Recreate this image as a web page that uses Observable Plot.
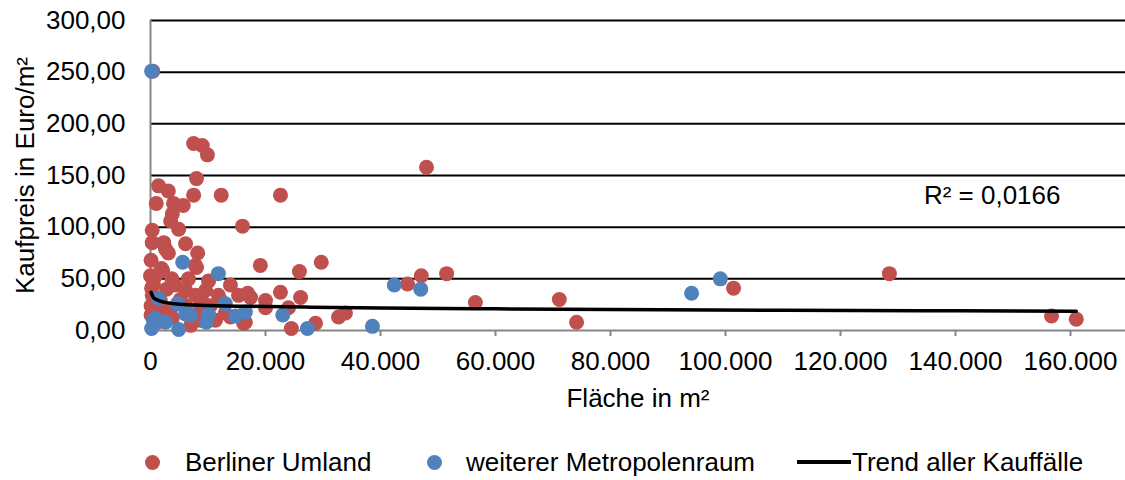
<!DOCTYPE html>
<html>
<head>
<meta charset="utf-8">
<script src="https://cdn.jsdelivr.net/npm/d3@7"></script>
<script src="https://cdn.jsdelivr.net/npm/@observablehq/plot@0.6"></script>
<style>
  html, body { margin: 0; padding: 0; background: #fff; }
  #wrap { width: 1125px; font-family: 'Liberation Sans', Arial, sans-serif; }
  #legend { position: relative; width: 1125px; height: 60px; font-size: 26px; color: #000; }
  #legend .sw { position: absolute; width: 15px; height: 15px; border-radius: 50%; }
  #legend .tx { position: absolute; line-height: 30px; white-space: nowrap; }
  #legend .ln { position: absolute; height: 4px; background: #000; }
</style>
</head>
<body>
<div id="wrap"><div id="chart"></div><div id="legend"></div></div>
<script>
// ---- data (Fläche in m², Kaufpreis in Euro/m²) ----
const umlandX = [400, 7500, 9000, 9900, 8000, 1400, 3100, 7500, 12300, 22600, 48000, 1000, 4000, 5700, 3800, 3500, 300, 4900, 16000, 300, 6100, 2600, 8200, 100, 7800, 19100, 25900, 29700, 2100, 500, 10100, 13900, 22600, 16900, 26100, 20000, 17400, 20000, 24000, 24500, 28700, 32700, 33900, 16200, 13900, 44700, 47100, 51500, 56500, 71100, 74100, 101400, 128500, 156700, 161000, 2300, 3100, 1900, 8000, 6600, 3700, 200, 15300, 11800, 2600, 7800, 16500, 900, 4300, 6100, 7800, 9600, 10400, 12200, 8700, 1700, 3500, 6100, 100, 100, 1200, 3800, 7000, 11300, 13000, 8700, 0, 300, 1400, 5200, 9000, 2800];
const umlandY = [251, 181, 179, 170, 147, 140, 135, 131, 131, 131, 158, 123, 123, 121, 113, 106, 97, 98, 101, 85, 84, 79, 75, 68, 63, 63, 57, 66, 58, 45, 48, 44, 37, 36, 32, 29, 32, 22, 22, 2, 7, 13, 17, 7, 13, 45, 53, 55, 27, 30, 8, 41, 55, 14, 11, 85, 75, 60, 61, 50, 50, 41, 34, 34, 17, 13, 8, 53, 44, 39, 34, 39, 24, 29, 24, 29, 21, 24, 24, 15, 8, 12, 5, 10, 17, 10, 53, 34, 19, 30, 28, 40];

const metroX = [200, 5600, 11800, 1400, 4700, 13000, 16500, 10100, 14800, 23000, 6100, 9700, 900, 2600, 200, 4900, 27300, 38600, 42400, 47000, 94100, 99100, 7000, 500];
const metroY = [251, 66, 55, 31, 26, 26, 18, 16, 14, 15, 16, 8, 12, 8, 2, 1, 2, 4, 44, 40, 36, 50, 15, 10];

// trend line
const trendX = [100, 500, 1000, 2300, 5000, 10000, 20000, 28000, 40000, 60000, 80000, 110000, 140000, 161000];
const trendY = [37, 32, 30, 27.5, 25.5, 24.3, 23.2, 22.6, 21.8, 21, 20.3, 19.5, 19, 18.7];

const xTicks = [0, 20000, 40000, 60000, 80000, 100000, 120000, 140000, 160000];
const yTicks = [0, 50, 100, 150, 200, 250, 300];
const gridY = [50, 100, 150, 200, 250, 300];

const xTitle = "Fläche in m²";
const yTitle = "Kaufpreis in Euro/m²";
const r2Label = "R² = 0,0166";
const seriesNames = ["Berliner Umland", "weiterer Metropolenraum", "Trend aller Kauffälle"];
const colors = ["#C0504D", "#4F81BD", "#000000"];

// ---- build ----
const de = d3.formatLocale({decimal: ",", thousands: ".", grouping: [3], currency: ["", " €"]});
const fmtX = de.format(",d");
const fmtY = de.format(",.2f");

const umland = umlandX.map((x, i) => ({x, y: umlandY[i]}));
const metro = metroX.map((x, i) => ({x, y: metroY[i]}));
const trend = trendX.map((x, i) => ({x, y: trendY[i]}));

const chart = Plot.plot({
  width: 1125,
  height: 420,
  marginTop: 20,
  marginBottom: 90,
  marginLeft: 150,
  marginRight: 0,
  style: {fontFamily: "'Liberation Sans', Arial, sans-serif", fontSize: "26px", color: "#000", background: "#fff"},
  x: {domain: [0, 169565]},
  y: {domain: [0, 300]},
  marks: [
    Plot.ruleY(gridY, {stroke: "#000", strokeWidth: 2}),
    Plot.ruleY([0], {stroke: "#868686", strokeWidth: 2}),
    Plot.ruleX([0], {stroke: "#868686", strokeWidth: 2}),
    Plot.axisX({ticks: xTicks, tickFormat: fmtX, tickSize: 6, stroke: "#868686", strokeWidth: 2, tickPadding: 15, label: null}),
    Plot.axisY({ticks: yTicks, tickFormat: fmtY, tickSize: 0, tickPadding: 25, label: null}),
    Plot.dot(umland, {x: "x", y: "y", r: 7.5, fill: colors[0]}),
    Plot.dot(metro, {x: "x", y: "y", r: 7.5, fill: colors[1]}),
    Plot.line(trend, {x: "x", y: "y", stroke: colors[2], strokeWidth: 3.5, curve: "monotone-x"}),
    Plot.text([r2Label], {x: 134500, y: 130.5, textAnchor: "start", fontSize: 26}),
    Plot.text([xTitle], {frameAnchor: "bottom", dy: 76, fontSize: 26}),
    Plot.text([yTitle], {frameAnchor: "left", rotate: -90, dx: -125, textAnchor: "middle", fontSize: 26})
  ]
});
document.getElementById("chart").appendChild(chart);

// legend
const lg = document.getElementById("legend");
const cy = 42;
function sw(cx, color) {
  const d = document.createElement("div");
  d.className = "sw"; d.style.left = (cx - 7.5) + "px"; d.style.top = (cy - 7.5) + "px"; d.style.background = color;
  lg.appendChild(d);
}
function tx(x, s) {
  const d = document.createElement("div");
  d.className = "tx"; d.style.left = x + "px"; d.style.top = (cy - 15) + "px"; d.textContent = s;
  lg.appendChild(d);
}
sw(152.5, colors[0]); tx(185, seriesNames[0]);
sw(434.5, colors[1]); tx(466, seriesNames[1]);
const ln = document.createElement("div");
ln.className = "ln"; ln.style.left = "797px"; ln.style.width = "54px"; ln.style.top = (cy - 2) + "px";
lg.appendChild(ln);
tx(852, seriesNames[2]);
</script>
</body>
</html>
